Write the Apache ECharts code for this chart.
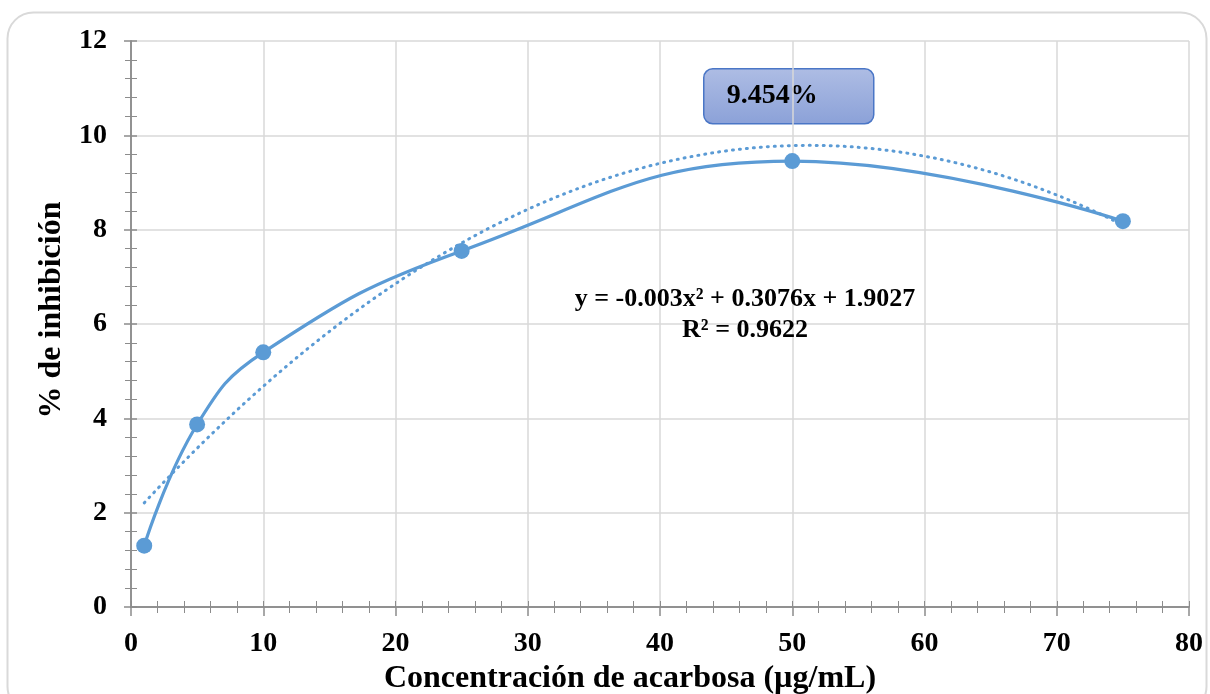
<!DOCTYPE html>
<html>
<head>
<meta charset="utf-8">
<script src="https://cdn.jsdelivr.net/npm/echarts@6/dist/echarts.min.js"></script>
<style>
  html, body { margin: 0; padding: 0; background: #fff; overflow: hidden; }
  #chart { width: 1210px; height: 694px; }
</style>
</head>
<body>
<div id="chart"></div>
<script>
// Acarbose concentration (µg/mL) and measured inhibition (%)
const concentrations = [1, 5, 10, 25, 50, 75];
const inhibition = [1.3, 3.87, 5.4, 7.55, 9.454, 8.18];

// Polynomial trendline coefficients (a·x² + b·x + c) and fit quality
const trendCoef = [-0.003, 0.3076, 1.9027];
const trendLabel = ['y = -0.003x² + 0.3076x + 1.9027', 'R² = 0.9622'];
const peakLabel = '9.454%';

const xTicks = { min: 0, max: 80, interval: 10 };
const yTicks = { min: 0, max: 12, interval: 2 };

const FONT = '"Liberation Serif", "Times New Roman", serif';
const BLUE = '#5b9bd5';
const AXIS = '#8c8c8c';

// Evaluate the stated trendline across the data range
const trendPts = [];
const x0 = concentrations[0], x1 = concentrations[concentrations.length - 1];
for (let x = x0; x <= x1 + 1e-9; x += 0.5) {
  trendPts.push([x, trendCoef[0] * x * x + trendCoef[1] * x + trendCoef[2]]);
}
const dataPts = concentrations.map((c, i) => [c, inhibition[i]]);

const chart = echarts.init(document.getElementById('chart'), null, { renderer: 'canvas' });

const baseX = {
  type: 'value', min: xTicks.min, max: xTicks.max, interval: xTicks.interval,
  axisLine: { show: true, lineStyle: { color: AXIS, width: 1.5 } }
};
const baseY = {
  type: 'value', min: yTicks.min, max: yTicks.max, interval: yTicks.interval,
  axisLine: { show: true, lineStyle: { color: AXIS, width: 1.5 } }
};

chart.setOption({
  animation: false,
  grid: { left: 131, right: 21, top: 41, bottom: 87, containLabel: false, outerBoundsMode: 'none' },
  xAxis: [
    Object.assign({}, baseX, {
      name: 'Concentración de acarbosa (µg/mL)',
      nameLocation: 'middle', nameGap: 52,
      nameTextStyle: { fontFamily: FONT, fontWeight: 'bold', fontSize: 32, color: '#000', padding: [0, 60, 0, 0] },
      axisTick: { show: true, length: 9, lineStyle: { color: AXIS, width: 1.5 } },
      minorTick: { show: true, splitNumber: 5, length: 6, lineStyle: { color: AXIS, width: 1 } },
      axisLabel: { fontFamily: FONT, fontWeight: 'bold', fontSize: 28, color: '#000', margin: 23 },
      splitLine: { show: true, lineStyle: { color: '#d9d9d9', width: 1.5 } }
    }),
    Object.assign({}, baseX, {
      position: 'bottom',
      axisTick: { show: true, inside: true, length: 6, lineStyle: { color: AXIS, width: 1 } },
      minorTick: { show: true, splitNumber: 5, length: 6, lineStyle: { color: AXIS, width: 1 } },
      axisLabel: { show: false },
      splitLine: { show: false }
    })
  ],
  yAxis: [
    Object.assign({}, baseY, {
      name: '% de inhibición',
      nameLocation: 'middle', nameGap: 58, nameRotate: 90,
      nameTextStyle: { fontFamily: FONT, fontWeight: 'bold', fontSize: 32, color: '#000', padding: [0, 0, 0, 28] },
      axisTick: { show: true, length: 7, lineStyle: { color: AXIS, width: 1.5 } },
      minorTick: { show: true, splitNumber: 5, length: 6, lineStyle: { color: AXIS, width: 1 } },
      axisLabel: { fontFamily: FONT, fontWeight: 'bold', fontSize: 28, color: '#000', margin: 24 },
      splitLine: { show: true, lineStyle: { color: '#d9d9d9', width: 1.5 } }
    }),
    Object.assign({}, baseY, {
      position: 'left',
      axisTick: { show: true, inside: true, length: 6, lineStyle: { color: AXIS, width: 1.5 } },
      minorTick: { show: true, splitNumber: 5, length: 6, lineStyle: { color: AXIS, width: 1 } },
      axisLabel: { show: false },
      splitLine: { show: false }
    })
  ],
  series: [
    {
      name: 'Tendencia', type: 'line', data: trendPts,
      showSymbol: false, symbol: 'none', smooth: false,
      lineStyle: { color: BLUE, width: 3, type: [1, 6], cap: 'round' },
      z: 2
    },
    {
      name: 'Inhibición', type: 'line', data: dataPts,
      smooth: 0.45,
      symbol: 'circle', symbolSize: 16,
      itemStyle: { color: BLUE },
      lineStyle: { color: BLUE, width: 3.2 },
      z: 3
    }
  ],
  graphic: [
    {
      type: 'rect', left: 5, top: 10, silent: true,
      shape: { width: 1199, height: 700, r: 26 },
      style: { fill: 'none', stroke: '#d9d9d9', lineWidth: 2 },
      z: -1
    },
    {
      type: 'group', left: 703, top: 68,
      children: [
        {
          type: 'rect',
          shape: { width: 170, height: 55, r: 9 },
          style: {
            fill: new echarts.graphic.LinearGradient(0, 0, 0, 1, [
              { offset: 0, color: '#aebde4' },
              { offset: 1, color: '#8ba1d8' }
            ]),
            stroke: '#4a76c6', lineWidth: 1.5
          }
        },
        {
          type: 'text', x: 23, y: 13,
          style: { text: peakLabel, font: 'bold 28px ' + FONT, fill: '#000' }
        }
      ],
      z: 10
    },
    {
      type: 'text', x: 745, y: 284,
      style: {
        text: trendLabel.join('\n'), font: 'bold 26px ' + FONT, fill: '#000',
        align: 'center', lineHeight: 31
      },
      z: 10
    }
  ]
});
</script>
</body>
</html>
